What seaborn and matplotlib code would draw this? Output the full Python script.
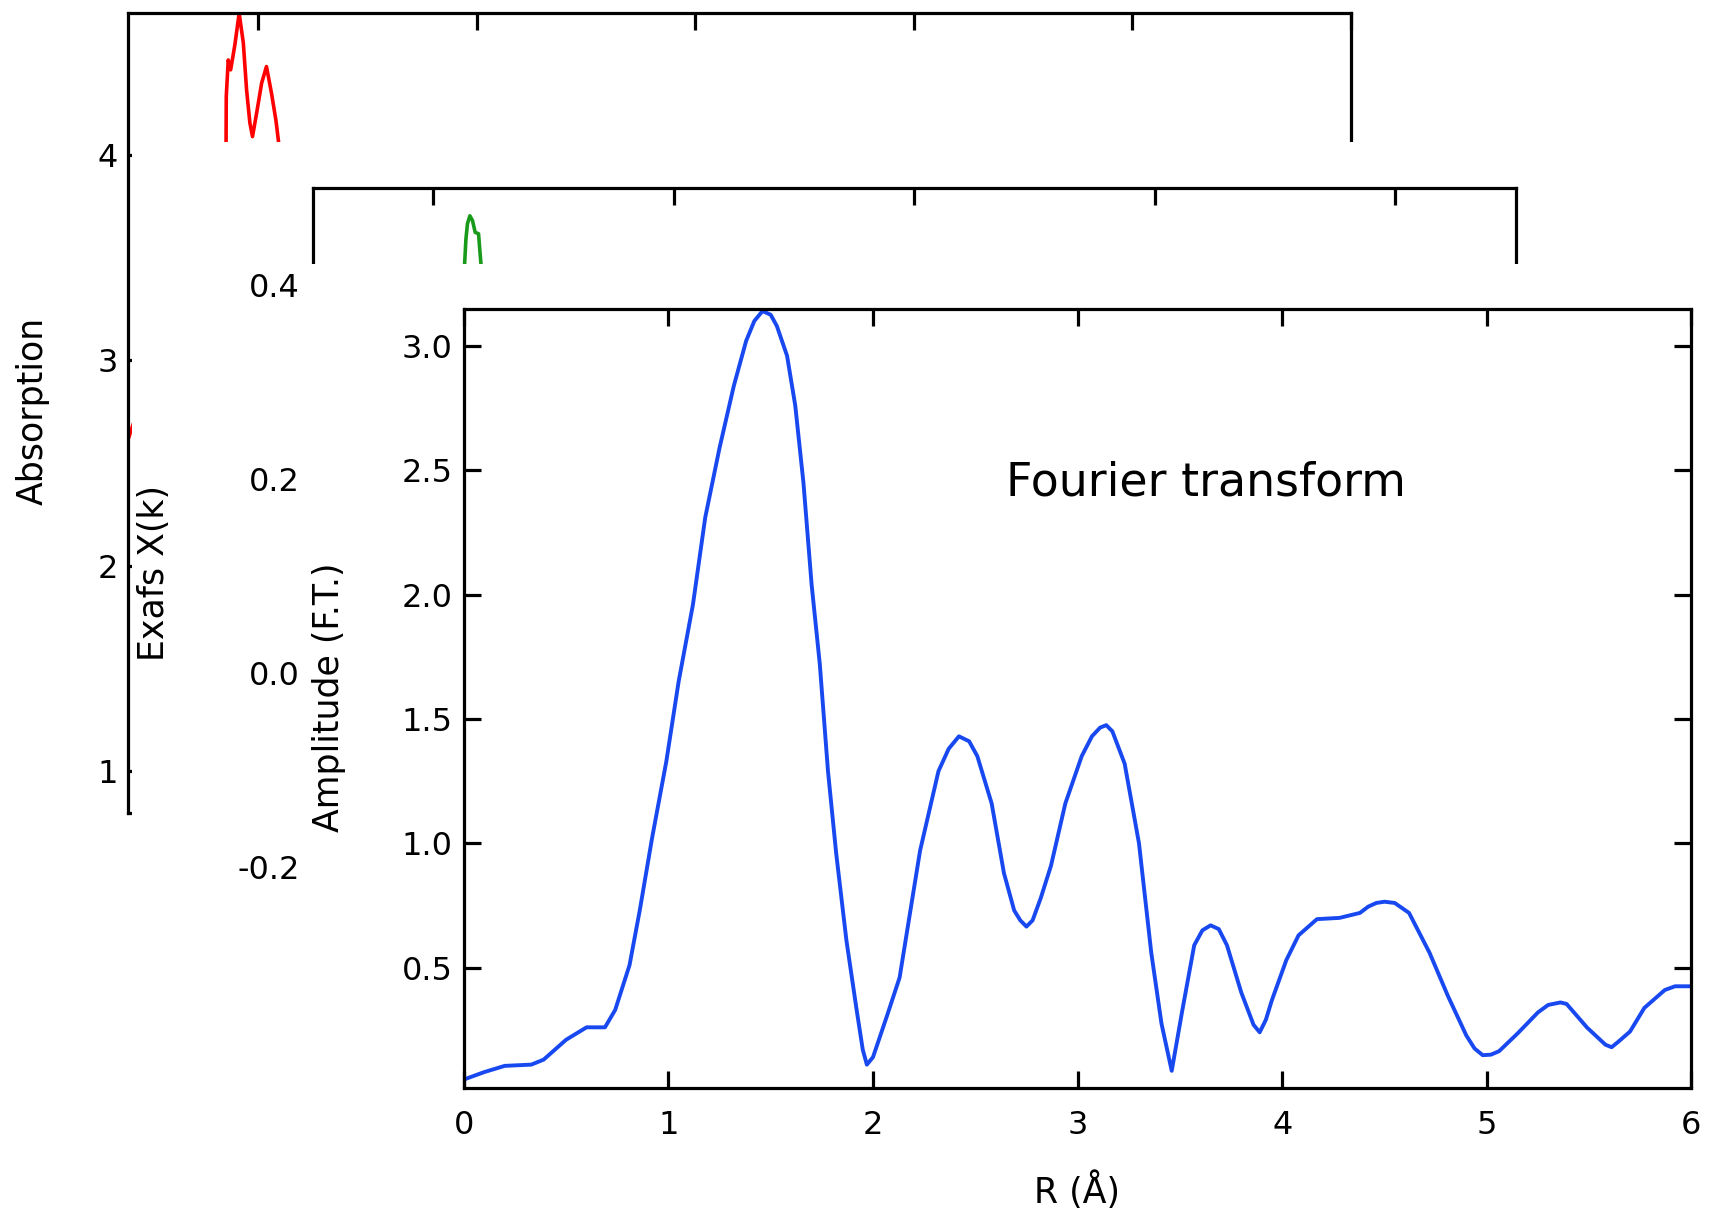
import matplotlib
matplotlib.use("Agg")
import matplotlib.pyplot as plt
from matplotlib.patches import Rectangle
import seaborn as sns

# ---------------- data ----------------
# Absorption (back panel) – energy in eV
energy_ev = [7040.3, 7085.3, 7085.4, 7086.3, 7087.4, 7088.3, 7089.4, 7091.3, 7093.2,
             7094.7, 7096.2, 7097.4, 7099.3, 7101.6, 7103.8, 7106.1, 7108.1, 7109.6]
absorption = [2.61, 4.04, 4.284, 4.462, 4.414, 4.47, 4.54, 4.69, 4.545,
              4.316, 4.156, 4.089, 4.204, 4.35, 4.43, 4.30, 4.17, 4.04]
abs_xticks = [7100, 7200, 7300, 7400, 7500, 7600]
abs_yticks = [1, 2, 3, 4]

# EXAFS chi(k) (middle panel)
k_values = [2.25, 2.27, 2.283, 2.303, 2.325, 2.347, 2.375, 2.386, 2.394, 2.41]
exafs_chi = [0.40, 0.447, 0.463, 0.471, 0.466, 0.454, 0.4525, 0.435, 0.423, 0.40]
k_ticks = [2, 4, 6, 8, 10]
chi_ticks = [-0.2, 0.0, 0.2, 0.4]
chi_ticklabels = ["-0.2", "0.0", "0.2", "0.4"]

# Fourier transform amplitude (front panel)
r_values = [0.00, 0.10, 0.20, 0.33, 0.39, 0.50, 0.60, 0.69, 0.74, 0.81, 0.86, 0.92,
            0.99, 1.05, 1.12, 1.18, 1.25, 1.32, 1.38, 1.42, 1.46, 1.50, 1.53, 1.58,
            1.62, 1.66, 1.70, 1.74, 1.78, 1.82, 1.87, 1.92, 1.95, 1.97, 2.00, 2.07,
            2.13, 2.23, 2.32, 2.37, 2.42, 2.47, 2.51, 2.58, 2.64, 2.69, 2.72, 2.75,
            2.78, 2.82, 2.87, 2.94, 3.02, 3.07, 3.11, 3.14, 3.17, 3.23, 3.30, 3.36,
            3.41, 3.46, 3.51, 3.57, 3.61, 3.65, 3.69, 3.73, 3.80, 3.86, 3.89, 3.92,
            3.95, 4.02, 4.08, 4.17, 4.28, 4.38, 4.42, 4.46, 4.50, 4.55, 4.62, 4.72,
            4.81, 4.90, 4.94, 4.98, 5.02, 5.06, 5.15, 5.25, 5.30, 5.36, 5.39, 5.49,
            5.58, 5.61, 5.64, 5.70, 5.77, 5.87, 5.92, 6.00]
ft_amplitude = [0.05, 0.08, 0.105, 0.11, 0.13, 0.21, 0.26, 0.26, 0.33, 0.51, 0.73, 1.02,
                1.33, 1.65, 1.96, 2.31, 2.59, 2.84, 3.02, 3.10, 3.14, 3.125, 3.08, 2.96,
                2.76, 2.45, 2.04, 1.72, 1.29, 0.96, 0.61, 0.33, 0.17, 0.11, 0.14, 0.31,
                0.46, 0.97, 1.29, 1.38, 1.43, 1.41, 1.35, 1.16, 0.88, 0.73, 0.69, 0.665,
                0.69, 0.78, 0.91, 1.16, 1.35, 1.43, 1.465, 1.475, 1.45, 1.32, 1.00, 0.56,
                0.275, 0.085, 0.32, 0.59, 0.65, 0.67, 0.655, 0.59, 0.40, 0.27, 0.24, 0.29,
                0.37, 0.53, 0.63, 0.695, 0.70, 0.72, 0.745, 0.76, 0.765, 0.76, 0.72, 0.56,
                0.386, 0.227, 0.175, 0.148, 0.15, 0.164, 0.235, 0.32, 0.35, 0.36, 0.354, 0.259,
                0.19, 0.18, 0.20, 0.243, 0.338, 0.41, 0.425, 0.425]
r_ticks = [0, 1, 2, 3, 4, 5, 6]
ft_ticks = [0.5, 1.0, 1.5, 2.0, 2.5, 3.0]
ft_ticklabels = ["0.5", "1.0", "1.5", "2.0", "2.5", "3.0"]

# ---------------- style ----------------
sns.set_theme(style="ticks", rc={
    "axes.edgecolor": "black", "text.color": "black", "axes.labelcolor": "black",
    "xtick.color": "black", "ytick.color": "black", "axes.facecolor": "white",
})
plt.rcParams["font.family"] = ["DejaVu Sans"]

W, H = 1711, 1216
fig = plt.figure(figsize=(W / 100, H / 100), dpi=100)
fig.patch.set_facecolor("white")


def rect(l, t, r, b):
    return [l / W, 1 - b / H, (r - l) / W, (b - t) / H]


LW_SPINE = 2.3
TICK_FS = 23
LABEL_FS = 25

# ---------------- back panel: absorption ----------------
ax1 = fig.add_axes(rect(127.7, 13.1, 1350.9, 813.0), zorder=1)
sns.lineplot(x=energy_ev, y=absorption, ax=ax1, color="#ff0000", linewidth=2.6,
             estimator=None, sort=False, legend=False)
ax1.set_xlim(7040.3, 7600)
ax1.set_ylim(0.798, 4.69)
ax1.set_xticks(abs_xticks)
ax1.set_yticks(abs_yticks)
ax1.set_yticklabels([str(v) for v in abs_yticks])
ax1.tick_params(axis="x", direction="in", top=True, bottom=False, labeltop=False,
                labelbottom=False, length=12, width=LW_SPINE)
ax1.tick_params(axis="y", direction="in", left=True, right=False, length=12,
                width=LW_SPINE, labelsize=TICK_FS, pad=7)
ax1.set_ylabel("Absorption", fontsize=LABEL_FS, va="center")
ax1.yaxis.set_label_coords(-0.0775, 0.503)
ax1.set_xlabel("")

fig.add_artist(Rectangle((132 / W, 0), 1 - 132 / W, (H - 141.9) / H,
                         transform=fig.transFigure, facecolor="white",
                         edgecolor="none", zorder=2))

# ---------------- middle panel: EXAFS ----------------
ax2 = fig.add_axes(rect(313.2, 187.7, 1515.7, 963.7), zorder=3)
sns.lineplot(x=k_values, y=exafs_chi, ax=ax2, color="#1a9a1a", linewidth=2.6,
             estimator=None, sort=False, legend=False)
ax2.set_xlim(1, 11)
ax2.set_ylim(-0.3, 0.5)
ax2.set_xticks(k_ticks)
ax2.set_yticks(chi_ticks)
ax2.set_yticklabels(chi_ticklabels)
ax2.tick_params(axis="x", direction="in", top=True, bottom=False, labeltop=False,
                labelbottom=False, length=12, width=LW_SPINE)
ax2.tick_params(axis="y", direction="in", left=True, right=False, length=12,
                width=LW_SPINE, labelsize=TICK_FS, pad=9.5)
ax2.set_ylabel("Exafs X(k)", fontsize=LABEL_FS, va="center")
ax2.yaxis.set_label_coords(-0.1324, 0.5036)
ax2.set_xlabel("")

fig.add_artist(Rectangle((305.5 / W, 0), 1 - 305.5 / W, (H - 264.1) / H,
                         transform=fig.transFigure, facecolor="white",
                         edgecolor="none", zorder=4))

# ---------------- front panel: Fourier transform ----------------
ax3 = fig.add_axes(rect(463.8, 308.8, 1691.4, 1088.0), zorder=5)
sns.lineplot(x=r_values, y=ft_amplitude, ax=ax3, color="#1848f0", linewidth=2.8,
             estimator=None, sort=False, legend=False)
for ln in ax3.get_lines():
    ln.set_solid_joinstyle("round")
ax3.set_xlim(0, 6)
ax3.set_ylim(0.016, 3.149)
ax3.set_xticks(r_ticks)
ax3.set_xticklabels([str(v) for v in r_ticks])
ax3.set_yticks(ft_ticks)
ax3.set_yticklabels(ft_ticklabels)
ax3.tick_params(axis="both", direction="in", top=True, bottom=True, left=True,
                right=True, length=12, width=LW_SPINE, labelsize=TICK_FS)
ax3.tick_params(axis="x", pad=16)
ax3.tick_params(axis="y", pad=8)
ax3.set_ylabel("Amplitude (F.T.)", fontsize=LABEL_FS, va="center")
ax3.yaxis.set_label_coords(-0.1098, 0.5014)
ax3.set_xlabel("R (Å)", fontsize=LABEL_FS, va="baseline")
ax3.xaxis.set_label_coords(0.4999, -0.148)
ax3.text(0.6046, 0.7598, "Fourier transform", transform=ax3.transAxes,
         ha="center", va="baseline", fontsize=33)

for ax in (ax1, ax2, ax3):
    for sp in ax.spines.values():
        sp.set_visible(True)
        sp.set_linewidth(LW_SPINE)
        sp.set_color("black")

fig.savefig("out.png", dpi=100, facecolor="white")
